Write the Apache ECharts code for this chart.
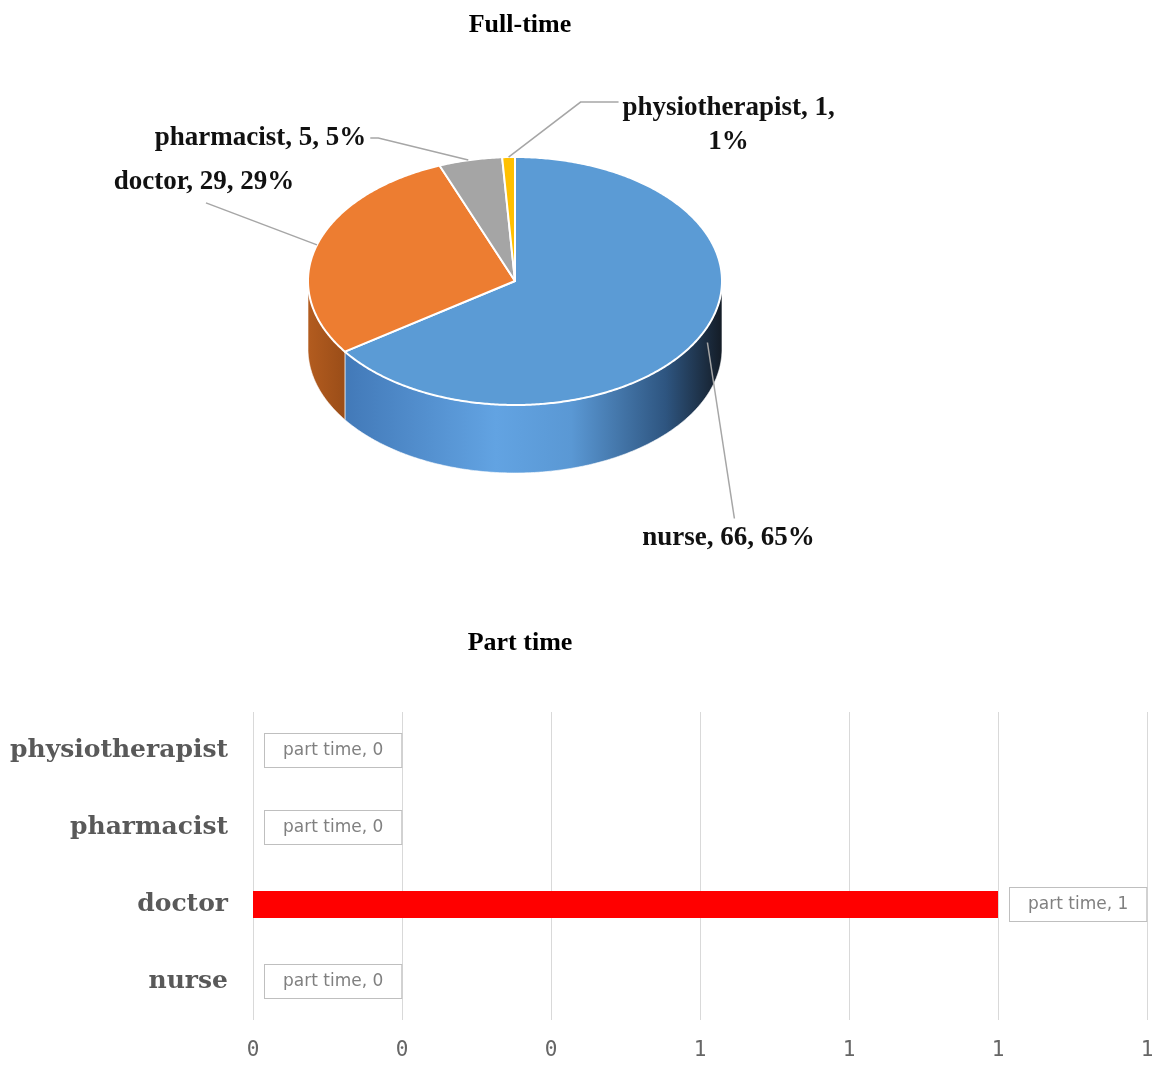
<!DOCTYPE html>
<html><head><meta charset="utf-8">
<script src="https://cdn.jsdelivr.net/npm/echarts@6/dist/echarts.min.js"></script>
<style>html,body{margin:0;padding:0;background:#fff}#c{width:1165px;height:1070px}</style>
</head><body><div id="c"></div>
<script>
// ---------- DATA ----------
const pieTitle = 'Full-time';
const pieCategories = ['nurse', 'doctor', 'pharmacist', 'physiotherapist'];
const pieValues = [66, 29, 5, 1];

const barTitle = 'Part time';
const barSeriesName = 'part time';
const barCategories = ['nurse', 'doctor', 'pharmacist', 'physiotherapist'];
const barValues = [0, 1, 0, 0];
const barAxisMin = 0, barAxisMax = 1.2, barAxisInterval = 0.2;

// ---------- STYLE / LAYOUT ----------
const PIE = { cx: 515, cy: 281, rx: 207, ry: 124, depth: 68 };
const topColors = ['#5B9BD5', '#ED7D31', '#A5A5A5', '#FFC000'];
const sideColors = [
  [[0, '#4279b8'], [0.4, '#62a3e2'], [0.6, '#5a98d4'], [0.85, '#2e5580'], [1, '#141c26']],
  [[0, '#b35c1f'], [1, '#9a4d18']],
  [[0, '#7a7a7a'], [1, '#8a8a8a']],
  [[0, '#c09000'], [1, '#d0a000']]
];
// label offsets relative to the slice's rim anchor
const labelLayout = [
  { text: [30, 200], align: 'center', vAlign: 'middle', line: [[9, 4], [36, 180]] },
  { text: [-113, -63], align: 'center', vAlign: 'middle', line: [[0, 0], [-111, -42]] },
  { text: [-104, -22], align: 'right', vAlign: 'middle', line: [[-2, 0], [-92, -22], [-100, -22]] },
  { text: [220, -66], align: 'center', vAlign: 'top', line: [[0, 0], [72, -55], [110, -55]], wrap: true }
];

const total = pieValues.reduce((a, b) => a + b, 0);
const cum = [];
pieValues.reduce((acc, v, i) => { cum[i] = acc; return acc + v; }, 0);

function rim(theta, dy) {
  return [PIE.cx + PIE.rx * Math.sin(theta), PIE.cy - PIE.ry * Math.cos(theta) + (dy || 0)];
}
function arc(a, b, dy) {
  const n = Math.max(2, Math.ceil((b - a) / 0.01));
  const pts = [];
  for (let k = 0; k <= n; k++) pts.push(rim(a + (b - a) * k / n, dy));
  return pts;
}

function renderPie(params, api) {
  const i = params.dataIndex;
  const v = api.value(0);
  const a0 = cum[i] / total * Math.PI * 2;
  const a1 = a0 + v / total * Math.PI * 2;
  const children = [];
  const s = Math.max(a0, Math.PI / 2), e = Math.min(a1, Math.PI * 3 / 2);
  if (s < e) {
    const top = arc(s, e, 0);
    const bot = arc(s, e, PIE.depth).reverse();
    children.push({
      type: 'polygon', z2: 1,
      shape: { points: top.concat(bot) },
      style: {
        fill: new echarts.graphic.LinearGradient(0, 0, 1, 0, sideColors[i].map(c => ({ offset: c[0], color: c[1] }))),
        stroke: 'rgba(255,255,255,0.6)', lineWidth: 1
      }
    });
  }
  children.push({
    type: 'polygon', z2: 10,
    shape: { points: [[PIE.cx, PIE.cy]].concat(arc(a0, a1, 0)) },
    style: { fill: topColors[i], stroke: '#ffffff', lineWidth: 2, lineJoin: 'round' }
  });
  const mid = (a0 + a1) / 2;
  const anc = rim(mid, 0);
  const L = labelLayout[i];
  const pct = Math.round(v / total * 100);
  const name = pieCategories[i];
  const txt = L.wrap ? name + ', ' + v + ',\n' + pct + '%' : name + ', ' + v + ', ' + pct + '%';
  children.push({
    type: 'polyline', z2: 20,
    shape: { points: L.line.map(p => [anc[0] + p[0], anc[1] + p[1]]) },
    style: { stroke: '#a6a6a6', lineWidth: 1.5, fill: null }
  });
  children.push({
    type: 'text', z2: 20,
    style: {
      text: txt, x: anc[0] + L.text[0], y: anc[1] + L.text[1],
      align: L.align, verticalAlign: L.vAlign,
      fontFamily: '"Liberation Serif", serif', fontWeight: 'bold', fontSize: 27,
      lineHeight: 34, fill: '#111111'
    }
  });
  return { type: 'group', children };
}

const titleStyle = { fontFamily: '"Liberation Serif", serif', fontWeight: 'bold', fontSize: 26, color: '#000' };
const chart = echarts.init(document.getElementById('c'), null, { renderer: 'canvas' });
chart.setOption({
  animation: false,
  backgroundColor: '#ffffff',
  title: [
    { text: pieTitle, left: 515, textAlign: 'center', top: 7, textStyle: titleStyle },
    { text: barTitle, left: 515, textAlign: 'center', top: 625, textStyle: titleStyle }
  ],
  grid: { left: 253, right: 18, top: 712, height: 308 },
  xAxis: {
    type: 'value', min: barAxisMin, max: barAxisMax, interval: barAxisInterval,
    axisLine: { show: false }, axisTick: { show: false },
    splitLine: { lineStyle: { color: '#d9d9d9', width: 1 } },
    axisLabel: { formatter: v => String(Math.round(v)), color: '#666666', fontSize: 21, fontFamily: '"DejaVu Sans Mono", monospace', margin: 20 }
  },
  yAxis: {
    type: 'category', data: barCategories,
    axisLine: { show: false }, axisTick: { show: false }, splitLine: { show: false },
    axisLabel: { color: '#595959', fontWeight: 'bold', fontSize: 25, fontFamily: '"DejaVu Serif", serif', margin: 25 }
  },
  series: [
    {
      type: 'custom', coordinateSystem: 'none', renderItem: renderPie,
      data: pieValues.map(v => [v]), silent: true
    },
    {
      type: 'bar', name: barSeriesName, data: barValues, barWidth: 27,
      itemStyle: { color: '#ff0000', borderWidth: 0 },
      label: {
        show: true, position: 'right', distance: 12,
        formatter: p => p.seriesName + ', ' + p.value,
        color: '#808080', fontSize: 17, fontFamily: '"DejaVu Sans", sans-serif',
        backgroundColor: '#ffffff', borderColor: '#bfbfbf', borderWidth: 1, padding: [8, 18]
      }
    }
  ]
});
</script></body></html>
